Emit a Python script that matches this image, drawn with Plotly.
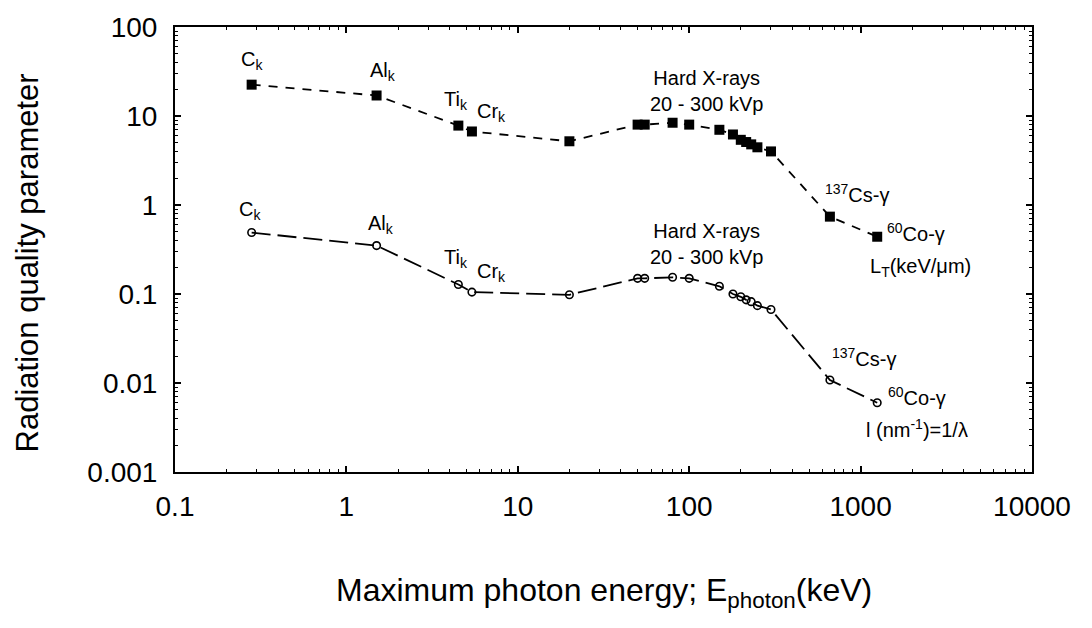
import numpy as np
import plotly.graph_objects as go

# ---- data ----
energy_keV = [0.28, 1.5, 4.5, 5.4, 20, 50, 55, 80, 100, 150, 180, 200, 215, 230, 250, 300, 662, 1250]
LT_keV_um = [22.5, 17.0, 7.8, 6.7, 5.2, 8.0, 8.0, 8.4, 8.0, 7.0, 6.2, 5.4, 5.1, 4.8, 4.45, 4.0, 0.74, 0.44]
inv_lambda_nm = [0.49, 0.35, 0.128, 0.105, 0.098, 0.15, 0.15, 0.154, 0.15, 0.122, 0.1, 0.093,
                 0.086, 0.082, 0.074, 0.067, 0.0108, 0.006]

x_tickvals = [0.1, 1, 10, 100, 1000, 10000]
x_ticktext = ["0.1", "1", "10", "100", "1000", "10000"]
y_tickvals = [0.001, 0.01, 0.1, 1, 10, 100]
y_ticktext = ["0.001", "0.01", "0.1", "1", "10", "100"]

FONT = "Liberation Sans, Arial, Helvetica, sans-serif"

fig = go.Figure()
fig.add_trace(go.Scatter(
    x=energy_keV, y=LT_keV_um, mode="lines+markers",
    line=dict(color="black", width=1.8, dash="9px,8px"),
    marker=dict(symbol="square", size=10, color="black"),
    showlegend=False))
fig.add_trace(go.Scatter(
    x=energy_keV, y=inv_lambda_nm, mode="lines+markers",
    line=dict(color="black", width=1.8, dash="19px,7px"),
    marker=dict(symbol="circle-open", size=7.5, color="black", line=dict(width=1.6, color="black")),
    showlegend=False))

ann = []
def label(i, series, text, dx, dy):
    ann.append(dict(x=np.log10(energy_keV[i]), y=np.log10(series[i]), xref="x", yref="y",
                    text=text, showarrow=False, xshift=dx, yshift=dy,
                    xanchor="center", yanchor="middle",
                    font=dict(family=FONT, size=20, color="black")))

# upper series labels
label(0, LT_keV_um, "C<sub>k</sub>", 0, 24)
label(1, LT_keV_um, "Al<sub>k</sub>", 6, 24)
label(2, LT_keV_um, "Ti<sub>k</sub>", -2, 25)
label(3, LT_keV_um, "Cr<sub>k</sub>", 20, 19)
label(8, LT_keV_um, "Hard X-rays<br>20 - 300 kVp", 17, 34)
label(16, LT_keV_um, "<sup>137</sup>Cs-γ", 27, 23)
label(17, LT_keV_um, "<sup>60</sup>Co-γ", 39, 4)
label(17, LT_keV_um, "L<sub>T</sub>(keV/μm)", 43, -31)
# lower series labels
label(0, inv_lambda_nm, "C<sub>k</sub>", -2, 22)
label(1, inv_lambda_nm, "Al<sub>k</sub>", 4, 21)
label(2, inv_lambda_nm, "Ti<sub>k</sub>", -2, 26)
label(3, inv_lambda_nm, "Cr<sub>k</sub>", 20, 20)
label(8, inv_lambda_nm, "Hard X-rays<br>20 - 300 kVp", 17, 34)
label(16, inv_lambda_nm, "<sup>137</sup>Cs-γ", 34, 23)
label(17, inv_lambda_nm, "<sup>60</sup>Co-γ", 40, 6)
label(17, inv_lambda_nm, "l (nm<sup>-1</sup>)=1/λ", 40, -26)

# axis titles
ann.append(dict(x=-0.172, y=0.47, xref="paper", yref="paper", text="Radiation quality parameter",
                textangle=-90, showarrow=False, xanchor="center", yanchor="middle",
                font=dict(family=FONT, size=31, color="black")))
ann.append(dict(x=0.5, y=-0.27, xref="paper", yref="paper",
                text="Maximum photon energy; E<sub>photon</sub>(keV)",
                showarrow=False, xanchor="center", yanchor="middle",
                font=dict(family=FONT, size=32, color="black")))

axis_common = dict(
    type="log", showgrid=False, zeroline=False,
    showline=True, linecolor="black", linewidth=2, mirror="allticks",
    ticks="inside", ticklen=6, tickwidth=1.5, tickcolor="black",
    tickfont=dict(family=FONT, size=28, color="black"),
    minor=dict(ticks="inside", ticklen=3, tickwidth=1, tickcolor="black", dtick="D1", showgrid=False),
)

fig.update_layout(
    width=1092, height=628,
    paper_bgcolor="white", plot_bgcolor="white",
    margin=dict(l=175, r=60, t=17, b=156),
    xaxis=dict(range=[-1, 4], tickmode="array", tickvals=x_tickvals, ticktext=x_ticktext,
               ticklabelstandoff=8, **axis_common),
    yaxis=dict(range=[-3, 2], tickmode="array", tickvals=y_tickvals, ticktext=y_ticktext,
               ticklabelstandoff=10, **axis_common),
    annotations=ann,
)

fig.write_html("out.html")
